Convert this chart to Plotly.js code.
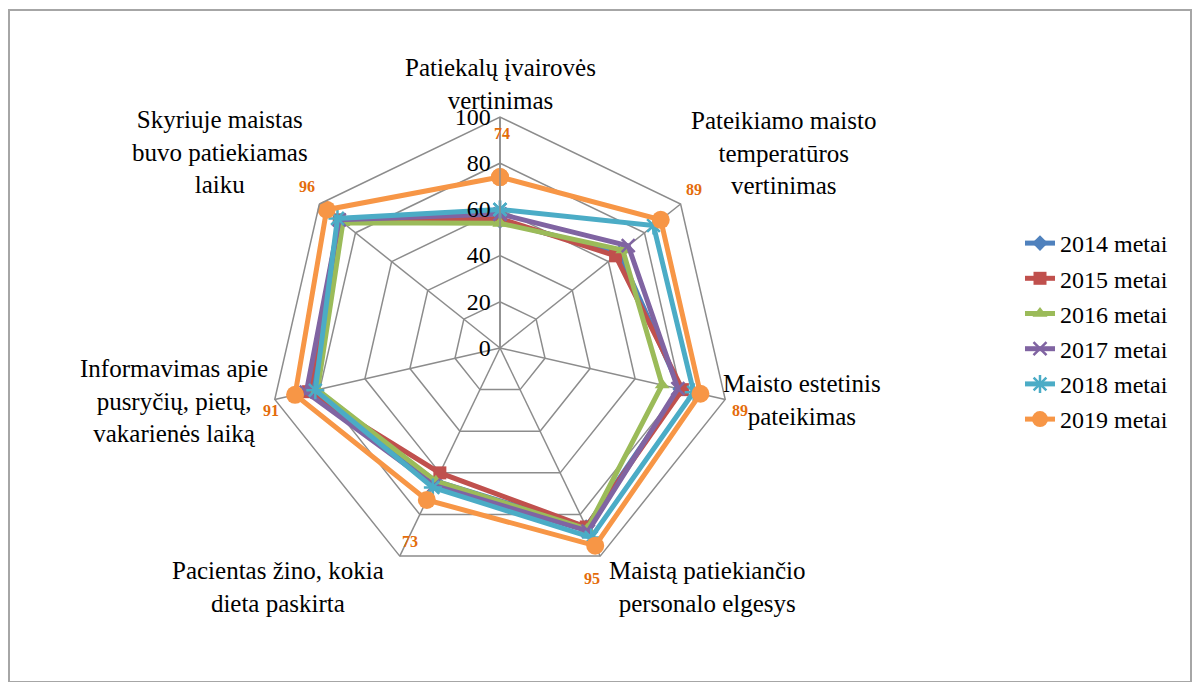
<!DOCTYPE html>
<html>
<head>
<meta charset="utf-8">
<script src="https://cdn.plot.ly/plotly-3.0.1.min.js"></script>
<style>
  html, body { margin: 0; padding: 0; background: #fff; }
  #wrap { position: relative; width: 1197px; height: 682px; overflow: hidden; }
  #chart { position: absolute; left: 0; top: 0; width: 1197px; height: 682px; }
  #frame { position: absolute; left: 8px; top: 9px; width: 1184px; height: 674px;
           border: 2px solid #a6a6a6; pointer-events: none; box-sizing: border-box; }
</style>
</head>
<body>
<div id="wrap"><div id="chart"></div><div id="frame"></div></div>
<script>
// ---- data ----
const categories = [
  "Patiekalų įvairovės<br>vertinimas",
  "Pateikiamo maisto<br>temperatūros<br>vertinimas",
  "Maisto estetinis<br>pateikimas",
  "Maistą patiekiančio<br>personalo elgesys",
  "Pacientas žino, kokia<br>dieta paskirta",
  "Informavimas apie<br>pusryčių, pietų,<br>vakarienės laiką",
  "Skyriuje maistas<br>buvo patiekiamas<br>laiku"
];
const seriesNames = ["2014 metai", "2015 metai", "2016 metai", "2017 metai", "2018 metai", "2019 metai"];
const v2014 = [55, 66, 80, 86, 64, 84, 88];
const v2015 = [56, 64, 81, 86, 60, 85, 89];
const v2016 = [54, 68, 72, 87, 64, 81, 87];
const v2017 = [58, 71, 79, 88, 66, 86, 89];
const v2018 = [60, 85, 86, 91, 67, 82, 90];
const v2019 = [74, 89, 89, 95, 73, 91, 96];
const radialTicks = [0, 20, 40, 60, 80, 100];

// ---- styles ----
const seriesValues = [v2014, v2015, v2016, v2017, v2018, v2019];
const colors = ["#4F81BD", "#C0504D", "#9BBB59", "#8064A2", "#4BACC6", "#F79646"];
const markers = [
  {symbol: "diamond", size: 12},
  {symbol: "square", size: 13},
  {symbol: "triangle-up", size: 13},
  {symbol: "x-thin-open", size: 13, line: {width: 2.5}},
  {symbol: "asterisk-open", size: 15, line: {width: 2.5}},
  {symbol: "circle", size: 18}
];
const FONT = '"Liberation Serif", "Times New Roman", serif';

const closed = arr => arr.concat([arr[0]]);
const thetaClosed = closed(categories);

const traces = seriesValues.map((vals, i) => {
  const m = Object.assign({color: colors[i]}, markers[i]);
  if (m.line) m.line = Object.assign({color: colors[i]}, m.line);
  return {
    type: "scatterpolar",
    mode: "lines+markers",
    name: seriesNames[i],
    legendgroup: "g" + i,
    r: closed(vals),
    theta: thetaClosed,
    line: {color: colors[i], width: 5},
    marker: m,
    cliponaxis: false,
    hoverinfo: "name+r"
  };
});

// category label placement (pixel centres) - layout only
const W = 1197, H = 682;
const catLabelPos = [[500, 84], [783, 153], [802, 400], [707, 587], [278, 587], [174, 401], [220, 152]];
// 2019 data-label placement (pixel centres) - layout only
const dataLabelPos = [[502, 133], [694, 190], [740, 410], [592, 578], [410, 541], [271, 410], [307, 187]];

const annotations = [];
categories.forEach((c, i) => {
  annotations.push({
    xref: "paper", yref: "paper", x: catLabelPos[i][0] / W, y: 1 - catLabelPos[i][1] / H,
    xanchor: "center", yanchor: "middle", text: c, showarrow: false, align: "center",
    font: {family: FONT, size: 25, color: "#000"}
  });
});
v2019.forEach((v, i) => {
  annotations.push({
    xref: "paper", yref: "paper", x: dataLabelPos[i][0] / W, y: 1 - dataLabelPos[i][1] / H,
    xanchor: "center", yanchor: "middle", text: "<b>" + v + "</b>", showarrow: false,
    font: {family: FONT, size: 16, color: "#E46C0A"}
  });
});

const cx = 500, cy = 348, R = 231;
const layout = {
  width: W, height: H,
  margin: {l: 0, r: 0, t: 0, b: 0},
  paper_bgcolor: "#fff",
  plot_bgcolor: "#fff",
  font: {family: FONT},
  showlegend: true,
  legend: {
    x: 1020 / W, y: 1 - 221 / H, xanchor: "left", yanchor: "top",
    font: {family: FONT, size: 24, color: "#000"},
    traceorder: "grouped", tracegroupgap: 1,
    bgcolor: "rgba(0,0,0,0)"
  },
  polar: {
    domain: {x: [(cx - R) / W, (cx + R) / W], y: [(H - cy - R) / H, (H - cy + R) / H]},
    bgcolor: "#fff",
    gridshape: "linear",
    angularaxis: {
      type: "category",
      rotation: 90,
      direction: "clockwise",
      showticklabels: false,
      ticks: "",
      showline: true,
      linecolor: "#8c8c8c",
      linewidth: 1.5,
      gridcolor: "#8c8c8c",
      gridwidth: 1.5
    },
    radialaxis: {
      range: [0, 100],
      tickvals: radialTicks,
      ticktext: radialTicks.map(String),
      angle: 90,
      tickangle: 90,
      side: "counterclockwise",
      ticks: "",
      showline: true,
      linecolor: "#8c8c8c",
      linewidth: 1.5,
      gridcolor: "#8c8c8c",
      gridwidth: 1.5,
      tickfont: {family: FONT, size: 24, color: "#000"}
    }
  },
  annotations: annotations
};

Plotly.newPlot("chart", traces, layout, {displayModeBar: false, staticPlot: true});
</script>
</body>
</html>
